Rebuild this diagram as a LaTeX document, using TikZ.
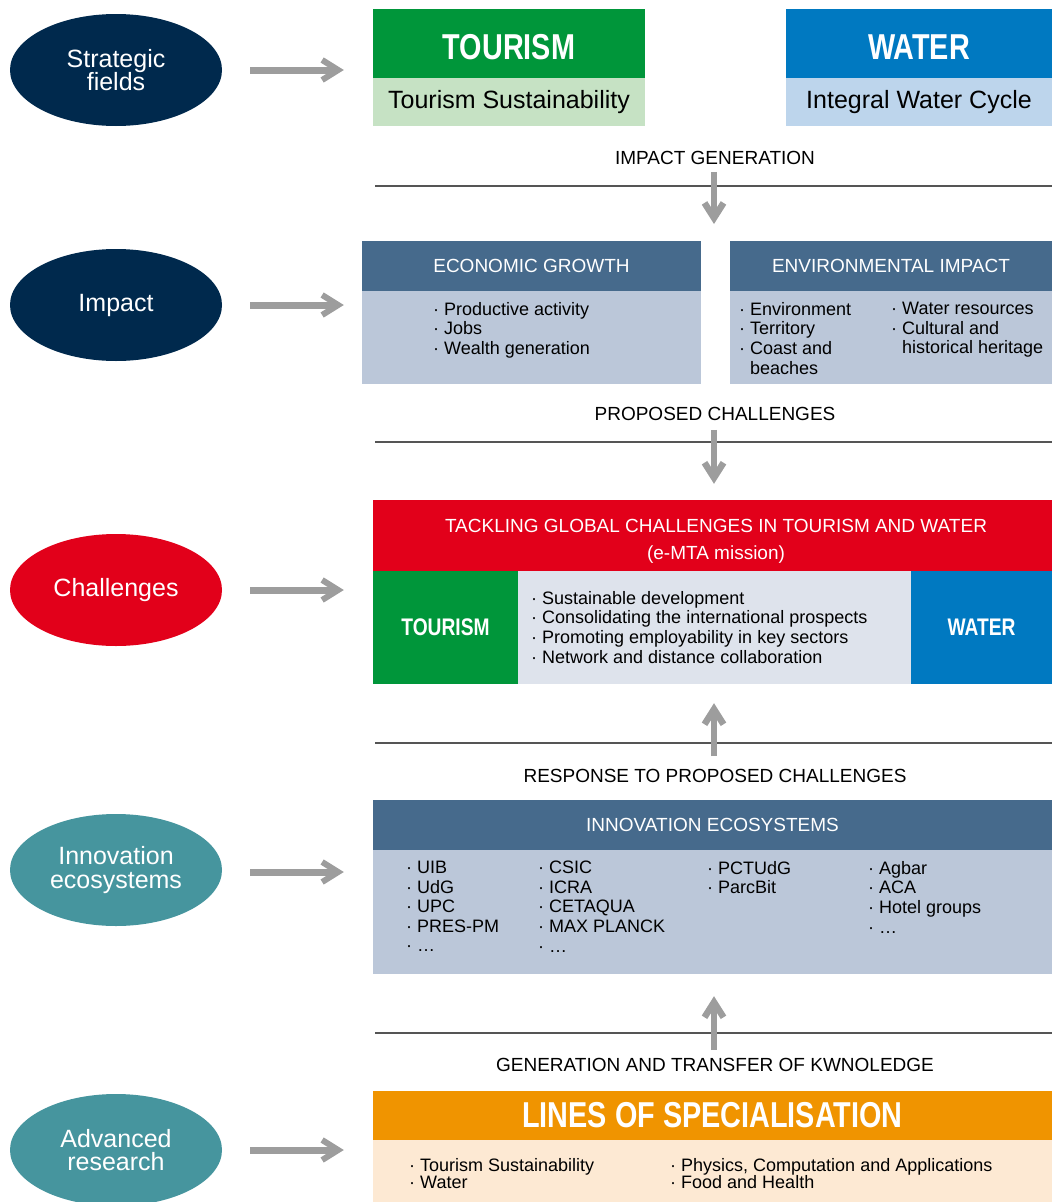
\documentclass[tikz,border=0pt]{standalone}
\usepackage{fontspec}
\setmainfont{Liberation Sans}
\newfontfamily\condfont[FakeStretch=0.8]{Liberation Sans}
\usetikzlibrary{shapes.geometric,arrows.meta,positioning}

\definecolor{navy}{RGB}{0,41,77}
\definecolor{mtared}{RGB}{226,0,26}
\definecolor{teal}{RGB}{70,149,158}
\definecolor{tourgreen}{RGB}{0,150,58}
\definecolor{waterblue}{RGB}{0,121,193}
\definecolor{palegreen}{RGB}{198,226,196}
\definecolor{paleblue}{RGB}{189,213,236}
\definecolor{steel}{RGB}{70,106,140}
\definecolor{steelpale}{RGB}{187,199,217}
\definecolor{mistgray}{RGB}{222,227,236}
\definecolor{orange}{RGB}{240,148,0}
\definecolor{peach}{RGB}{253,233,211}
\definecolor{arrowgray}{RGB}{157,157,157}
\definecolor{linegray}{RGB}{85,85,85}

\begin{document}
\begin{tikzpicture}[x=1pt,y=-1pt,
    field/.style={ellipse,fill=#1,minimum width=212,minimum height=112,inner sep=0,text=white,align=center,font=\fontsize{25}{23.5}\selectfont},
    box/.style={rectangle,fill=#1,inner sep=0},
    bighead/.style={text=white,font=\condfont\bfseries\fontsize{36}{36}\selectfont},
    midhead/.style={text=white,font=\condfont\bfseries\fontsize{24}{24}\selectfont},
    caption/.style={inner sep=0,align=center,font=\fontsize{19}{27}\selectfont},
    itemlist/.style={inner sep=0,anchor=north west,align=left,font=\fontsize{18}{19.6}\selectfont},
    sidearrow/.style={draw=arrowgray,line width=7,-{Straight Barb[length=16pt,width=20pt,line width=6pt,sharp]},shorten <=28,shorten >=29},
    vertarrow/.style={draw=arrowgray,line width=5.5,-{Straight Barb[length=15pt,width=19pt,line width=6.5pt,sharp]}},
    sepline/.style={draw=linegray,line width=1.4}]
    \useasboundingbox (0,0) rectangle (1052,1202);

    % left column
    \node[field=navy] (sf) at (116,70) {Strategic\\fields};
    \node[field=navy] (imp) at (116,305) {Impact};
    \node[field=mtared] (chal) at (116,590) {Challenges};
    \node[field=teal] (inno) at (116,870) {Innovation\\ecosystems};
    \node[field=teal] (adv) at (116,1150) {Advanced\\research};

    % strategic fields
    \node[box=tourgreen,bighead,text height=32,text depth=0,minimum width=272,minimum height=69] (tourhead) at (509,43.5) {TOURISM};
    \node[box=palegreen,minimum width=272,minimum height=48,font=\fontsize{25}{25}\selectfont] (tourbody) at (509,102) {Tourism Sustainability};
    \node[box=waterblue,bighead,text height=32,text depth=0,minimum width=266,minimum height=69] (waterhead) at (919,43.5) {WATER};
    \node[box=paleblue,minimum width=266,minimum height=48,font=\fontsize{25}{25}\selectfont] (waterbody) at (919,102) {Integral Water Cycle};

    % impact
    \node[caption] (impgen) at (715,158) {IMPACT GENERATION};
    \draw[sepline] (375,186) -- (1052,186);
    \coordinate (impend) at (714,224);
    \draw[vertarrow,shorten <=7] (impgen.south -| impend) -- (impend);
    \node[box=steel,caption,text=white,minimum width=339,minimum height=50] (econhead) at (531.5,266) {ECONOMIC GROWTH};
    \node[box=steelpale,minimum width=339,minimum height=93] (econbody) at (531.5,337.5) {};
    \node[box=steel,caption,text=white,minimum width=322,minimum height=50] (envhead) at (891,266) {ENVIRONMENTAL IMPACT};
    \node[box=steelpale,minimum width=322,minimum height=93] (envbody) at (891,337.5) {};
    \node[itemlist] (econlist) at (433,302) {· Productive activity\\· Jobs\\· Wealth generation};
    \node[itemlist] (envlistA) at (739,302) {· Environment\\· Territory\\· Coast and\\\phantom{· }beaches};
    \node[itemlist] (envlistB) at (891,302) {· Water resources\\· Cultural and\\\phantom{· }historical heritage};

    % challenges
    \node[caption] (propch) at (715,414) {PROPOSED CHALLENGES};
    \draw[sepline] (375,442) -- (1052,442);
    \node[box=mtared,minimum width=679,minimum height=71] (chalhead) at (712.5,535.5) {};
    \node[caption,text=white] (chaltitle) at (716,541) {TACKLING GLOBAL CHALLENGES IN TOURISM AND WATER\\(e-MTA mission)};
    \draw[vertarrow,shorten <=9,shorten >=16] (propch.south -| 714,0) -- (chalhead.north -| 714,0);
    \node[box=tourgreen,midhead,minimum width=145,minimum height=113] (chaltour) at (445.5,627.5) {TOURISM};
    \node[box=mistgray,minimum width=393,minimum height=113] (chalmid) at (714.5,627.5) {};
    \node[box=waterblue,midhead,minimum width=141,minimum height=113] (chalwater) at (981.5,627.5) {WATER};
    \node[itemlist] (challist) at (531,591) {· Sustainable development\\· Consolidating the international prospects\\· Promoting employability in key sectors\\· Network and distance collaboration};

    % innovation ecosystems
    \draw[sepline] (375,743) -- (1052,743);
    \node[caption] (resp) at (715,776) {RESPONSE TO PROPOSED CHALLENGES};
    \draw[vertarrow,shorten <=13,shorten >=19] (resp.north -| 714,0) -- (chalmid.south -| 714,0);
    \node[box=steel,caption,text=white,minimum width=679,minimum height=50] (innohead) at (712.5,825) {INNOVATION ECOSYSTEMS};
    \node[box=steelpale,minimum width=679,minimum height=124] (innobody) at (712.5,912) {};
    \node[itemlist] (innoA) at (406,861) {· UIB\\· UdG\\· UPC\\· PRES-PM\\· …};
    \node[itemlist] (innoB) at (538,861) {· CSIC\\· ICRA\\· CETAQUA\\· MAX PLANCK\\· …};
    \node[itemlist] (innoC) at (707,861) {· PCTUdG\\· ParcBit};
    \node[itemlist] (innoD) at (868,861) {· Agbar\\· ACA\\· Hotel groups\\· …};

    % advanced research
    \draw[sepline] (375,1033) -- (1052,1033);
    \node[caption] (gentr) at (715,1065) {GENERATION AND TRANSFER OF KWNOLEDGE};
    \draw[vertarrow,shorten <=8,shorten >=22] (gentr.north -| 714,0) -- (innobody.south -| 714,0);
    \node[box=orange,bighead,minimum width=679,minimum height=49] (spechead) at (712.5,1115.5) {LINES OF SPECIALISATION};
    \node[box=peach,minimum width=679,minimum height=62] (specbody) at (712.5,1171) {};
    \node[itemlist,font=\fontsize{18}{17.5}\selectfont] (specA) at (409,1158) {· Tourism Sustainability\\· Water};
    \node[itemlist,font=\fontsize{18}{17.5}\selectfont] (specB) at (670,1158) {· Physics, Computation and Applications\\· Food and Health};

    % side arrows
    \draw[sidearrow] (sf.east) -- (sf.east -| tourhead.west);
    \draw[sidearrow,shorten >=18] (imp.east) -- (imp.east -| econhead.west);
    \draw[sidearrow] (chal.east) -- (chal.east -| chaltour.west);
    \draw[sidearrow] ([yshift=-2]inno.east) -- ([yshift=-2]inno.east -| innohead.west);
    \draw[sidearrow] (adv.east) -- (adv.east -| spechead.west);
\end{tikzpicture}
\end{document}
